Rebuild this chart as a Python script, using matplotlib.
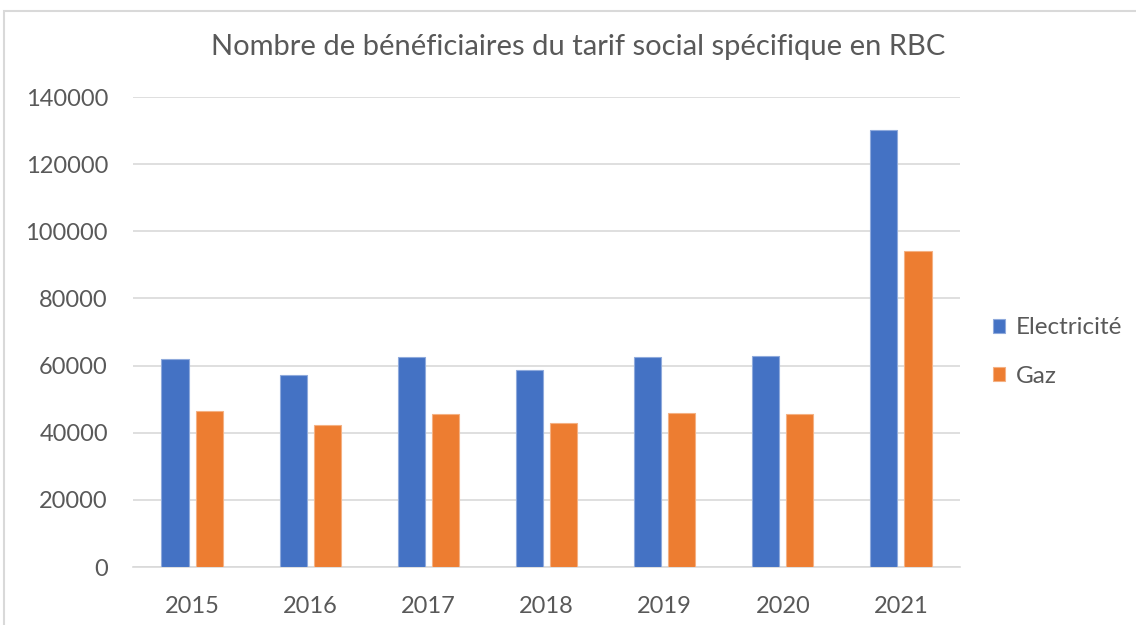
import matplotlib
matplotlib.use("Agg")
import matplotlib.pyplot as plt
from matplotlib.patches import Rectangle
import numpy as np

years = ["2015", "2016", "2017", "2018", "2019", "2020", "2021"]
electricite = [61900, 57300, 62500, 58700, 62500, 62800, 130200]
gaz = [46500, 42200, 45600, 43000, 45900, 45600, 94100]
yticks = [0, 20000, 40000, 60000, 80000, 100000, 120000, 140000]
title = "Nombre de bénéficiaires du tarif social spécifique en RBC"

plt.rcParams['font.family'] = ['Lato', 'DejaVu Sans']
txt = '#595959'

fig = plt.figure(figsize=(11.36, 6.25), dpi=100)
fig.patches.append(Rectangle((4/1136, -0.2), 1.2, 1.2 - 11/625, transform=fig.transFigure,
                             fill=False, edgecolor='#D9D9D9', linewidth=1.5))
ax = fig.add_axes([133/1136, 1-567/625, (960-133)/1136, (567-97)/625])

x = np.arange(len(years))
w = 0.229
ax.bar(x - w/2 - 0.03, electricite, w, color='#4472C4', edgecolor='#8FAADC', linewidth=0.8, zorder=3, label='Electricité')
ax.bar(x + w/2 + 0.03, gaz, w, color='#ED7D31', edgecolor='#F4B183', linewidth=0.8, zorder=3, label='Gaz')

ax.set_xlim(-0.5, len(years) - 0.5)
ax.set_ylim(0, 140000)
ax.set_yticks(yticks)
ax.set_yticklabels([str(v) for v in yticks])
ax.set_xticks(x)
ax.set_xticklabels(years)
ax.grid(axis='y', color='#D9D9D9', linewidth=1.2, zorder=0)
for s in ['top', 'right', 'left']:
    ax.spines[s].set_visible(False)
ax.spines['bottom'].set_color('#D9D9D9')
ax.spines['bottom'].set_linewidth(1.2)
ax.tick_params(axis='both', length=0, labelsize=17, colors=txt)
ax.tick_params(axis='y', pad=18)
ax.tick_params(axis='x', pad=21)

fig.text(578/1136, 1-47/625, title, ha='center', va='center', fontsize=21, color=txt)

leg = fig.legend(loc='center left', bbox_to_anchor=(971/1136, 1-352/625), frameon=False,
                 fontsize=17.5, labelcolor=txt, handlelength=0.5, handleheight=0.5,
                 handletextpad=0.45, labelspacing=1.12)

fig.savefig("out.png", dpi=100)
